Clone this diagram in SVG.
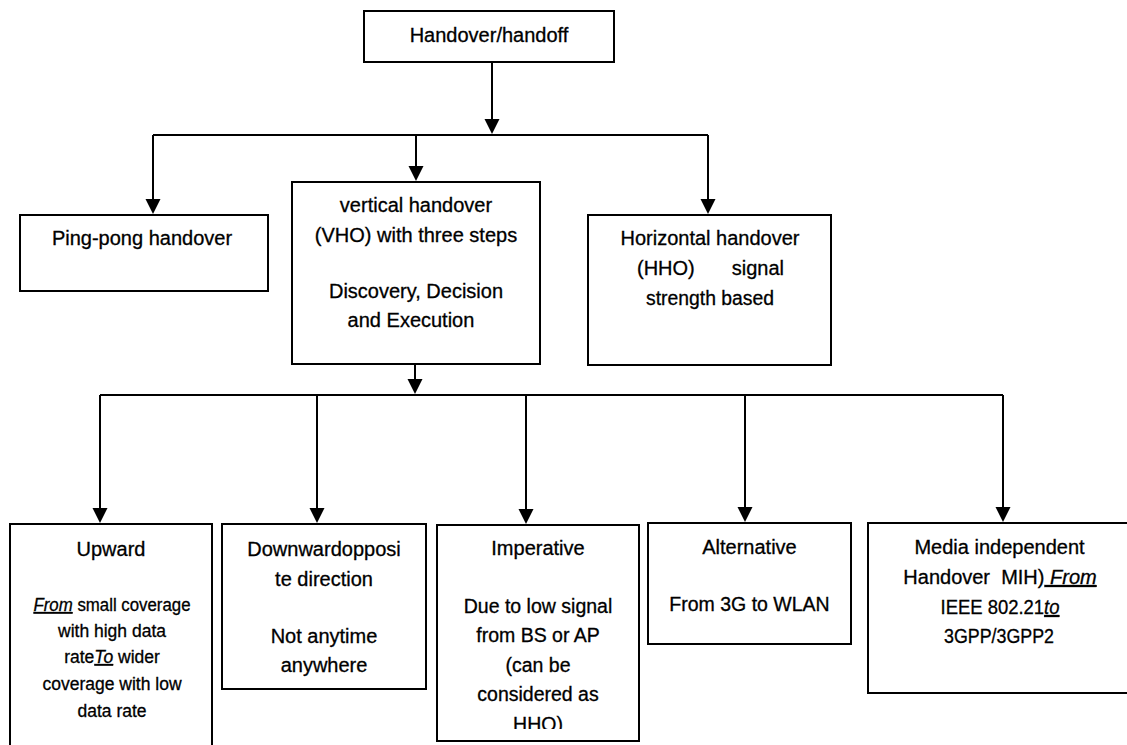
<svg xmlns="http://www.w3.org/2000/svg" width="1127" height="745" viewBox="0 0 1127 745">
<style>
.box{fill:#fff;stroke:#000;stroke-width:2}
.c{fill:none;stroke:#000;stroke-width:2}
text{font-family:"Liberation Sans",Arial,sans-serif;font-size:20px;fill:#000;stroke:#000;stroke-width:0.3;text-anchor:middle}
.s{font-size:17.5px}
.m{font-size:19.5px}
.u{font-style:italic;text-decoration:underline}
</style>
<defs>
<marker id="ah" markerUnits="userSpaceOnUse" markerWidth="16" markerHeight="16" refX="11" refY="7.5" orient="auto">
<path d="M0,0 L15,7.5 L0,15 Z" fill="#000"/>
</marker>
<clipPath id="clipImp"><rect x="437" y="525" width="202" height="204"/></clipPath>
</defs>
<rect x="0" y="0" width="1127" height="745" fill="#fff"/>

<g id="connectors">
<path class="c" d="M492,62 V130" marker-end="url(#ah)"/>
<path class="c" d="M153,135 H708"/>
<path class="c" d="M153,135 V210" marker-end="url(#ah)"/>
<path class="c" d="M416,135 V177" marker-end="url(#ah)"/>
<path class="c" d="M708,135 V210" marker-end="url(#ah)"/>
<path class="c" d="M415,364 V390" marker-end="url(#ah)"/>
<path class="c" d="M100,395 H1003"/>
<path class="c" d="M100,395 V519" marker-end="url(#ah)"/>
<path class="c" d="M317,395 V519" marker-end="url(#ah)"/>
<path class="c" d="M526,395 V520" marker-end="url(#ah)"/>
<path class="c" d="M745,395 V518" marker-end="url(#ah)"/>
<path class="c" d="M1003,395 V518" marker-end="url(#ah)"/>
</g>

<g id="n-handover">
<rect class="box" x="364" y="11" width="250" height="51"/>
<text x="489" y="42">Handover/handoff</text>
</g>

<g id="n-pingpong">
<rect class="box" x="20" y="215" width="248" height="76"/>
<text x="142" y="245">Ping-pong handover</text>
</g>

<g id="n-vho">
<rect class="box" x="292" y="182" width="248" height="182"/>
<text x="416" y="212">vertical handover</text>
<text x="416" y="242">(VHO) with three steps</text>
<text x="416" y="298">Discovery, Decision</text>
<text x="411" y="327">and Execution</text>
</g>

<g id="n-hho">
<rect class="box" x="588" y="215" width="243" height="150"/>
<text x="710" y="245">Horizontal handover</text>
<text y="275"><tspan x="637" text-anchor="start">(HHO)</tspan><tspan x="784" text-anchor="end">signal</tspan></text>
<text x="710" y="305" textLength="128" lengthAdjust="spacingAndGlyphs">strength based</text>
</g>

<g id="n-upward">
<rect class="box" x="10" y="524" width="202" height="240"/>
<text x="111" y="556">Upward</text>
<text class="s" x="112" y="611" textLength="157" lengthAdjust="spacingAndGlyphs"><tspan class="u">From</tspan> small coverage</text>
<text class="s" x="112" y="637">with high data</text>
<text class="s" x="112" y="663">rate<tspan class="u">To</tspan> wider</text>
<text class="s" x="112" y="690">coverage with low</text>
<text class="s" x="112" y="717">data rate</text>
</g>

<g id="n-downward">
<rect class="box" x="222" y="524" width="204" height="165"/>
<text x="324" y="556">Downwardopposi</text>
<text x="324" y="586">te direction</text>
<text x="324" y="643">Not anytime</text>
<text x="324" y="672">anywhere</text>
</g>

<g id="n-imperative">
<rect class="box" x="437" y="525" width="202" height="216"/>
<text x="538" y="555">Imperative</text>
<text class="m" x="538" y="613">Due to low signal</text>
<text class="m" x="538" y="642">from BS or AP</text>
<text class="m" x="538" y="672">(can be</text>
<text class="m" x="538" y="701">considered as</text>
<text class="m" x="538" y="731" clip-path="url(#clipImp)">HHO)</text>
</g>

<g id="n-alternative">
<rect class="box" x="648" y="523" width="203" height="121"/>
<text x="749.5" y="554">Alternative</text>
<text class="m" x="749.5" y="611">From 3G to WLAN</text>
</g>

<g id="n-mih">
<rect class="box" x="868" y="523" width="270" height="170"/>
<text x="999.5" y="554">Media independent</text>
<text x="1000" y="584" xml:space="preserve">Handover  MIH)<tspan class="u"> From</tspan></text>
<text x="1000" y="614" textLength="119" lengthAdjust="spacingAndGlyphs">IEEE 802.21<tspan class="u">to</tspan></text>
<text x="999" y="643" textLength="110" lengthAdjust="spacingAndGlyphs">3GPP/3GPP2</text>
</g>
</svg>
